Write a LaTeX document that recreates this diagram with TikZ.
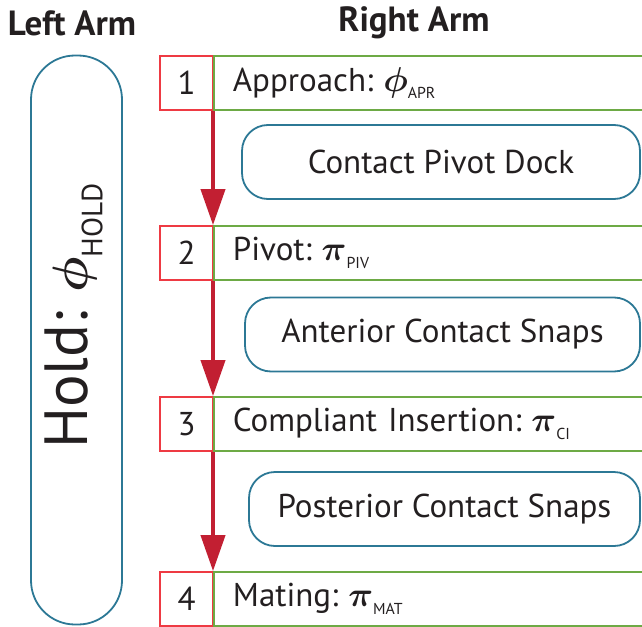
\documentclass[tikz,border=0pt]{standalone}
\usepackage{fontspec}
\setmainfont{PT Sans}
\usepackage{amsmath,bm}
\usetikzlibrary{arrows.meta}
\definecolor{ink}{HTML}{231F20}
\definecolor{numred}{HTML}{EE3A43}
\definecolor{stepgreen}{HTML}{6DAA45}
\definecolor{evteal}{HTML}{2C7895}
\definecolor{flowred}{HTML}{C21F32}
\newcommand{\phasesub}[1]{\raisebox{-0.24em}{\scalebox{0.48}{#1}}}
\begin{document}
\begin{tikzpicture}[x=0.5pt,y=-0.5pt,
    hdr/.style={font=\fontsize{17.5}{20}\selectfont\bfseries, text=ink},
    numbox/.style={draw=numred, line width=0.9pt, minimum width=26.5pt, minimum height=27pt,
      inner sep=0pt, text=ink, font=\fontsize{16.5}{20}\selectfont},
    stepbox/.style={draw=stepgreen, line width=0.9pt, anchor=west, minimum height=27pt,
      text width=240pt, inner xsep=9.5pt, inner ysep=0pt, align=left, text=ink,
      font=\fontsize{16.5}{20}\selectfont},
    evbox/.style={draw=evteal, line width=0.9pt, rounded corners=13pt, minimum height=37pt,
      inner sep=0pt, text=ink, font=\fontsize{16.5}{20}\selectfont},
    flow/.style={draw=flowred, line width=2pt, -{Triangle[length=18pt,width=12pt]}}]
  \useasboundingbox (0,0) rectangle (642,626);
  \clip (0,0) rectangle (642,626);

  % arm headings
  \node[hdr] (leftarm) at (72,23) {Left Arm};
  \node[hdr] (rightarm) at (414,23) {Right Arm};

  % left arm holds for the whole task
  \node[draw=evteal, line width=0.9pt, rounded corners=22pt, minimum width=45.5pt,
    minimum height=284.5pt] (hold) at (76.5,340) {};
  \node[rotate=90, text=ink, font=\fontsize{30.5}{34}\selectfont] (holdlbl) at (74,316)
    {Hold:\hspace{0.3em}$\bm{\phi}$\phasesub{HOLD}};

  % right arm phases
  \node[numbox] (n1) at (186.5,83) {1};
  \node[stepbox] (s1) at (213,83) {Approach:\hspace{0.3em}$\bm{\phi}$\phasesub{APR}};
  \node[numbox] (n2) at (186.5,253) {2};
  \node[stepbox] (s2) at (213,253) {Pivot:\hspace{0.3em}$\bm{\pi}$\phasesub{PIV}};
  \node[numbox] (n3) at (186.5,424) {3};
  \node[stepbox] (s3) at (213,424) {Compliant Insertion:\hspace{0.3em}$\bm{\pi}$\phasesub{CI}};
  \node[numbox] (n4) at (186.5,599) {4};
  \node[stepbox] (s4) at (213,599) {Mating:\hspace{0.3em}$\bm{\pi}$\phasesub{MAT}};

  % contact events between phases
  \node[evbox, minimum width=199pt] (e1) at (441,162) {Contact Pivot Dock};
  \node[evbox, minimum width=197.5pt] (e2) at (442.5,334.5) {Anterior Contact Snaps};
  \node[evbox, minimum width=195.5pt] (e3) at (444.5,509) {Posterior Contact Snaps};

  \draw[flow] (s1.south west) -- (s2.north west);
  \draw[flow] (s2.south west) -- (s3.north west);
  \draw[flow] (s3.south west) -- (s4.north west);
\end{tikzpicture}
\end{document}
